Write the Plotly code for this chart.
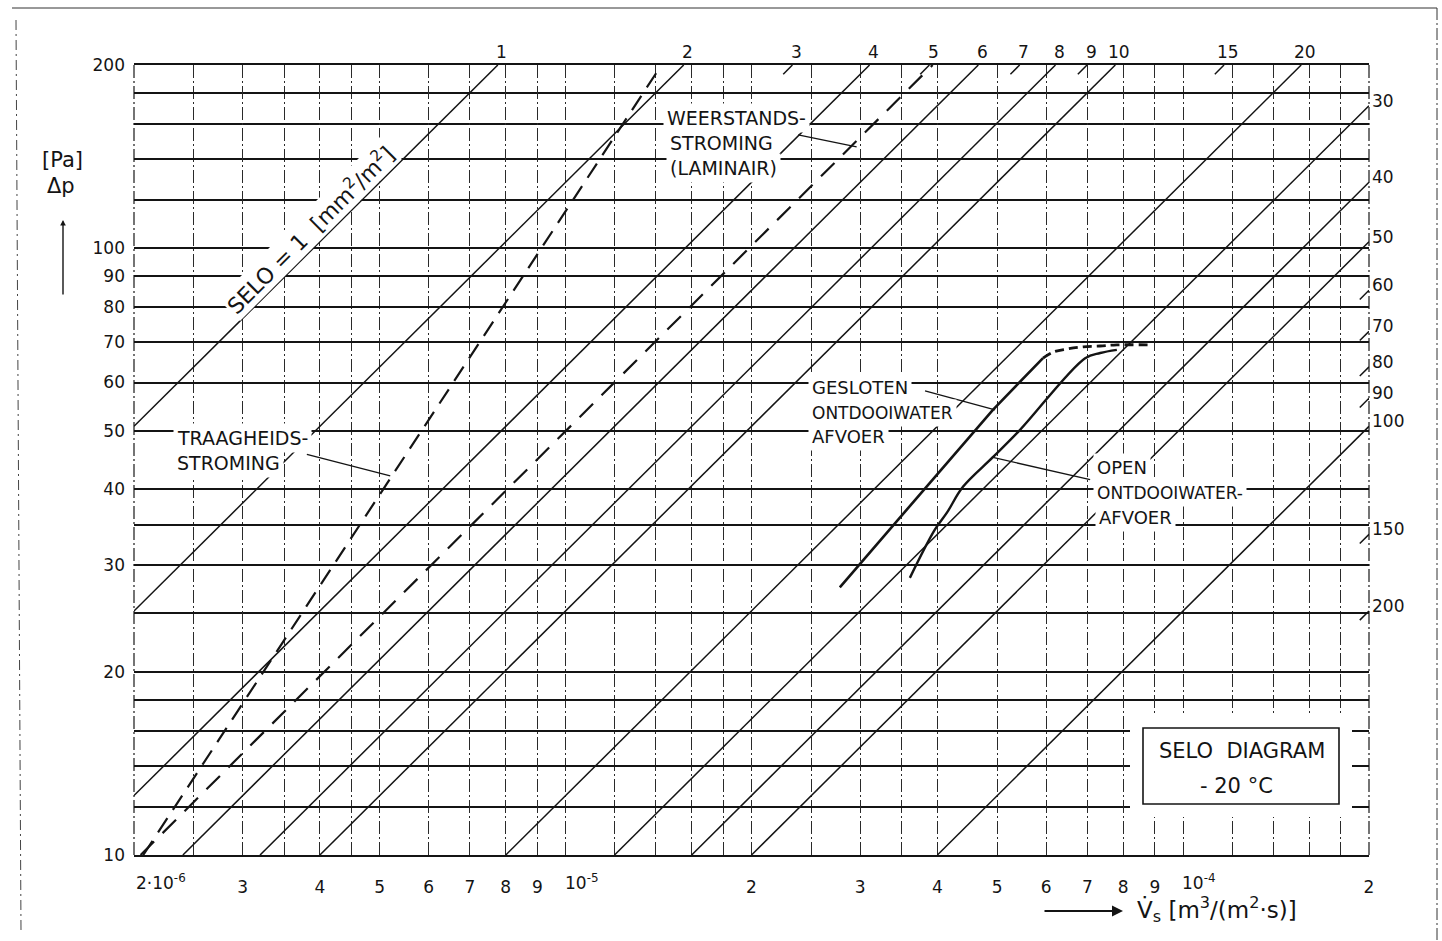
import math
import plotly.graph_objects as go

# ---------------- data ----------------
V_RANGE = [2e-6, 2e-4]          # m3/(m2 s)
DP_RANGE = [10, 200]            # Pa

X_MAJOR = [3e-6, 4e-6, 5e-6, 6e-6, 7e-6, 8e-6, 9e-6,
           2e-5, 3e-5, 4e-5, 5e-5, 6e-5, 7e-5, 8e-5, 9e-5, 2e-4]
X_MAJOR_TEXT = ["3", "4", "5", "6", "7", "8", "9",
                "2", "3", "4", "5", "6", "7", "8", "9", "2"]
X_MINOR = [2e-6, 2.5e-6, 3.5e-6, 4.5e-6, 1e-5, 1.2e-5, 1.4e-5, 1.6e-5, 1.8e-5,
           2.5e-5, 3.5e-5, 1e-4, 1.2e-4, 1.4e-4, 1.6e-4, 1.8e-4]
X_DECADE_VALUES = [2e-6, 1e-5, 1e-4]
X_DECADE_TEXT = ["2·10<sup>-6</sup>", "10<sup>-5</sup>", "10<sup>-4</sup>"]

Y_MAJOR = [10, 20, 30, 40, 50, 60, 70, 80, 90, 100, 200]
Y_MAJOR_TEXT = ["10", "20", "30", "40", "50", "60", "70", "80", "90", "100", "200"]
Y_MINOR = [12, 14, 16, 18, 25, 35, 120, 140, 160, 180]

# constant-SELO lines: dp = 10 * (V / V10)^SLOPE with V10 = 10*SELO/K_SELO
K_SELO = 2.5e7
SLOPE = 1.01
SELO_DRAWN = [1, 2, 4, 6, 8, 10, 20, 30, 40, 50, 100]
SELO_STUB = [3, 5, 7, 9, 15, 60, 70, 80, 90, 150, 200]
SELO_TOP_LABELS = [1, 2, 3, 4, 5, 6, 7, 8, 9, 10, 15, 20]
SELO_RIGHT_LABELS = [30, 40, 50, 60, 70, 80, 90, 100, 150, 200]

# dashed flow-regime lines
TURB_V = [2.07e-6, 1.43e-5]
TURB_DP = [10, 200]
LAM_V = [2.05e-6, 3.93e-5]
LAM_DP = [10, 200]

# measured curves
GESL_V = [2.78e-5, 4.92e-5, 5.93e-5]
GESL_DP = [27.6, 54.1, 65.8]
GESL_DASH_V = [5.93e-5, 6.15e-5, 6.48e-5, 6.89e-5, 7.34e-5, 7.81e-5, 8.84e-5]
GESL_DASH_DP = [65.8, 67.3, 68.1, 68.7, 68.9, 69.2, 69.2]
OPEN_V = [3.61e-5, 3.96e-5, 4.15e-5, 4.40e-5, 4.92e-5, 5.44e-5, 6.94e-5, 7.34e-5, 7.81e-5]
OPEN_DP = [28.6, 34.3, 36.7, 40.4, 45.2, 50.1, 65.8, 67.1, 67.9]

# leader lines (tail -> head)
LEADER_V = [[3.81e-6, 5.2e-6], [2.38e-5, 2.96e-5], [3.82e-5, 4.96e-5], [7.07e-5, 4.90e-5]]
LEADER_DP = [[45.7, 42.1], [153.4, 146.6], [58.1, 54.1], [41.5, 45.2]]

# ---------------- style / layout ----------------
W, H = 1442, 941
ML, MR, MT, MB = 134, 73, 65, 86
PW, PH = W - ML - MR, H - MT - MB
INK = "#141414"
FONT = "DejaVu Sans, Liberation Sans, sans-serif"
GRID_DASH = "13px,3px,2px,3px"


def paper(px, py):
    return (px - ML) / PW, (H - MB - py) / PH


def selo_ends(s):
    v10 = DP_RANGE[0] * s / K_SELO
    if v10 >= V_RANGE[0]:
        p0 = (v10, DP_RANGE[0])
    else:
        p0 = (V_RANGE[0], DP_RANGE[0] * (V_RANGE[0] / v10) ** SLOPE)
    vtop = v10 * (DP_RANGE[1] / DP_RANGE[0]) ** (1 / SLOPE)
    if vtop <= V_RANGE[1]:
        p1 = (vtop, DP_RANGE[1])
    else:
        p1 = (V_RANGE[1], DP_RANGE[0] * (V_RANGE[1] / v10) ** SLOPE)
    return p0, p1


fig = go.Figure()

for s in SELO_DRAWN:
    p0, p1 = selo_ends(s)
    fig.add_trace(go.Scatter(x=[p0[0], p1[0]], y=[p0[1], p1[1]], mode="lines",
                             line=dict(color=INK, width=1.5), hoverinfo="skip"))

STUB_F = 1.035
for s in SELO_STUB:
    _, p1 = selo_ends(s)
    fig.add_trace(go.Scatter(x=[p1[0] / STUB_F, p1[0]], y=[p1[1] / STUB_F ** SLOPE, p1[1]],
                             mode="lines", line=dict(color=INK, width=1.5), hoverinfo="skip"))

fig.add_trace(go.Scatter(x=TURB_V, y=TURB_DP, mode="lines",
                         line=dict(color=INK, width=2.2, dash="17px,10px")))
fig.add_trace(go.Scatter(x=LAM_V, y=LAM_DP, mode="lines",
                         line=dict(color=INK, width=2.2, dash="19px,12px")))
fig.add_trace(go.Scatter(x=GESL_V, y=GESL_DP, mode="lines",
                         line=dict(color=INK, width=2.6)))
fig.add_trace(go.Scatter(x=GESL_DASH_V, y=GESL_DASH_DP, mode="lines", line_shape="spline",
                         line=dict(color=INK, width=2.8, dash="9px,5px")))
fig.add_trace(go.Scatter(x=OPEN_V, y=OPEN_DP, mode="lines", line_shape="spline",
                         line=dict(color=INK, width=2.4)))
for lv, ld in zip(LEADER_V, LEADER_DP):
    fig.add_trace(go.Scatter(x=lv, y=ld, mode="lines", line=dict(color=INK, width=1.3)))

ann = []

# x decade labels
for v, t in zip(X_DECADE_VALUES, X_DECADE_TEXT):
    ann.append(dict(x=math.log10(v), y=0, xref="x", yref="paper", text=t, showarrow=False,
                    xanchor="left", yanchor="middle", yshift=-27, xshift=-3 if v > 2e-6 else 0,
                    font=dict(size=17, family=FONT, color=INK)))

# SELO labels on top and right
for s in SELO_TOP_LABELS:
    _, p1 = selo_ends(s)
    ann.append(dict(x=math.log10(p1[0]), y=math.log10(p1[1]), xref="x", yref="y", text=str(s),
                    showarrow=False, xanchor="center", yanchor="middle", xshift=4, yshift=13,
                    font=dict(size=17, family=FONT, color=INK)))
for s in SELO_RIGHT_LABELS:
    _, p1 = selo_ends(s)
    ann.append(dict(x=math.log10(p1[0]), y=math.log10(p1[1]), xref="x", yref="y", text=str(s),
                    showarrow=False, xanchor="left", yanchor="middle", xshift=1, yshift=5,
                    font=dict(size=17, family=FONT, color=INK)))

# text labels with white background (they interrupt the grid)
LABEL_LINES = [(173, 438, "TRAAGHEIDS-", 19), (173, 463, "STROMING", 19),
               (663, 118, "WEERSTANDS-", 19), (666, 143, "STROMING", 19),
               (666, 168, "(LAMINAIR)", 19),
               (808, 388, "GESLOTEN", 18), (808, 413, "ONTDOOIWATER", 17), (808, 437, "AFVOER", 18),
               (1093, 467, "OPEN", 18), (1093, 493, "ONTDOOIWATER-", 17), (1095, 517, "AFVOER", 18)]
for px, py, t, fs in LABEL_LINES:
    x, y = paper(px, py)
    ann.append(dict(x=x, y=y, xref="paper", yref="paper", text=t, showarrow=False,
                    xanchor="left", yanchor="middle", bgcolor="white", borderpad=3,
                    font=dict(size=fs, family=FONT, color=INK)))

# rotated SELO = 1 label
x, y = paper(310, 229)
ann.append(dict(x=x, y=y, xref="paper", yref="paper",
                text="SELO = 1  [mm<sup>2</sup>/m<sup>2</sup>]", showarrow=False,
                textangle=-45, xanchor="center", yanchor="middle", bgcolor="white", borderpad=1,
                font=dict(size=22, family=FONT, color=INK)))

# SELO DIAGRAM box text
for px, py, t in [(1242, 751, "SELO  DIAGRAM"), (1236, 786, "- 20 °C")]:
    x, y = paper(px, py)
    ann.append(dict(x=x, y=y, xref="paper", yref="paper", text=t, showarrow=False,
                    xanchor="center", yanchor="middle",
                    font=dict(size=21, family=FONT, color=INK)))

# axis titles
x, y = paper(62, 160)
ann.append(dict(x=x, y=y, xref="paper", yref="paper", text="[Pa]", showarrow=False,
                xanchor="center", yanchor="middle", font=dict(size=21, family=FONT, color=INK)))
x, y = paper(61, 186)
ann.append(dict(x=x, y=y, xref="paper", yref="paper", text="Δp", showarrow=False,
                xanchor="center", yanchor="middle", font=dict(size=21, family=FONT, color=INK)))
x, y = paper(63, 220)
ann.append(dict(x=x, y=y, xref="paper", yref="paper", text="", showarrow=True, ax=0, ay=76,
                arrowhead=2, arrowsize=0.8, arrowwidth=1.4, arrowcolor=INK))
x, y = paper(1123, 911)
ann.append(dict(x=x, y=y, xref="paper", yref="paper", text="", showarrow=True, ax=-80, ay=0,
                arrowhead=2, arrowsize=1.1, arrowwidth=2, arrowcolor=INK))
x, y = paper(1135, 910)
ann.append(dict(x=x, y=y, xref="paper", yref="paper",
                text="V\u0307<sub>s</sub> [m<sup>3</sup>/(m<sup>2</sup>·s)]", showarrow=False,
                xanchor="left", yanchor="middle", font=dict(size=23, family=FONT, color=INK)))

# shapes: white margin + frame of the title box, dashed plot sides, page frame
shapes = []
bx0, by0 = paper(1130, 817)
bx1, by1 = paper(1352, 715)
shapes.append(dict(type="rect", xref="paper", yref="paper", x0=bx0, y0=by0, x1=bx1, y1=by1,
                   fillcolor="white", line=dict(width=0), layer="above"))
bx0, by0 = paper(1143, 804)
bx1, by1 = paper(1339, 728)
shapes.append(dict(type="rect", xref="paper", yref="paper", x0=bx0, y0=by0, x1=bx1, y1=by1,
                   fillcolor="white", line=dict(color=INK, width=1.6), layer="above"))
for side in (0, 1):
    shapes.append(dict(type="line", xref="paper", yref="paper", x0=side, y0=0, x1=side, y1=1,
                       line=dict(color="#2a2a2a", width=1.3, dash=GRID_DASH), layer="below"))
fx0, fy_top = paper(12, 8)
fx1, _ = paper(1437, 8)
_, fy_bot = paper(0, 941)
lx, ly0 = paper(16, 20)
lx2, ly1 = paper(21, 930)
shapes.append(dict(type="line", xref="paper", yref="paper", x0=fx0, y0=fy_top, x1=fx1, y1=fy_top,
                   line=dict(color="#333", width=1)))
shapes.append(dict(type="line", xref="paper", yref="paper", x0=fx1, y0=fy_top, x1=fx1, y1=fy_bot,
                   line=dict(color="#333", width=1, dash="12px,3px,2px,3px")))
shapes.append(dict(type="line", xref="paper", yref="paper", x0=lx, y0=ly0, x1=lx2, y1=ly1,
                   line=dict(color="#444", width=1, dash="10px,4px,2px,4px")))

fig.update_layout(
    width=W, height=H, margin=dict(l=ML, r=MR, t=MT, b=MB),
    paper_bgcolor="white", plot_bgcolor="white", showlegend=False,
    font=dict(family=FONT, size=17, color=INK),
    annotations=ann, shapes=shapes,
    xaxis=dict(type="log", range=[math.log10(V_RANGE[0]), math.log10(V_RANGE[1])],
               tickmode="array", tickvals=X_MAJOR, ticktext=X_MAJOR_TEXT, ticks="",
               ticklabelstandoff=16, tickfont=dict(size=17, family=FONT, color=INK),
               showgrid=True, gridcolor="#2a2a2a", gridwidth=1, griddash=GRID_DASH,
               minor=dict(tickvals=X_MINOR, showgrid=True, gridcolor="#2a2a2a", gridwidth=1,
                          griddash=GRID_DASH, ticks=""),
               showline=True, mirror=True, linecolor=INK, linewidth=2, zeroline=False),
    yaxis=dict(type="log", range=[math.log10(DP_RANGE[0]), math.log10(DP_RANGE[1])],
               tickmode="array", tickvals=Y_MAJOR, ticktext=Y_MAJOR_TEXT, ticks="",
               ticklabelstandoff=8, tickfont=dict(size=17, family=FONT, color=INK),
               showgrid=True, gridcolor=INK, gridwidth=1.8,
               minor=dict(tickvals=Y_MINOR, showgrid=True, gridcolor=INK, gridwidth=1.8, ticks=""),
               showline=False, zeroline=False),
)

fig.write_html("out.html", config={"displayModeBar": False},
               post_script="document.body.style.margin='0px';document.body.style.overflow='hidden';")
